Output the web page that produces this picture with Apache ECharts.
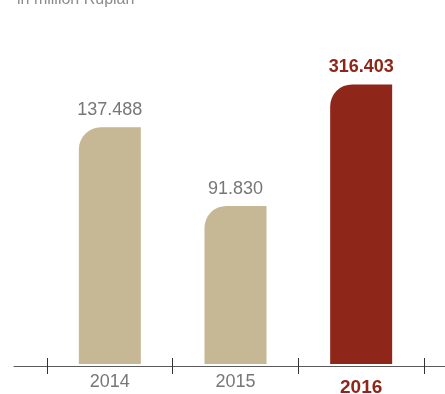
<!DOCTYPE html>
<html>
<head>
<meta charset="utf-8">
<script src="https://cdn.jsdelivr.net/npm/echarts@6/dist/echarts.min.js"></script>
<style>
  html, body { margin: 0; padding: 0; background: #ffffff; }
  #chart { width: 445px; height: 394px; }
</style>
</head>
<body>
<div id="chart"></div>
<script>
// Net income, in million Rupiah
const categories = ['2014', '2015', '2016'];
const values = [137.488, 91.830, 316.403];
const unitLabel = 'in million Rupiah';

const BEIGE = '#c6b894';
const RED = '#8e2619';
const GREY = '#777777';
const FONT = '"Liberation Sans", Arial, Helvetica, sans-serif';
const last = categories.length - 1;

const fmt = v => v.toFixed(3);

const barData = values.map((v, i) => {
  const hot = i === last;
  return {
    value: v,
    itemStyle: { color: hot ? RED : BEIGE },
    label: {
      color: hot ? RED : GREY,
      fontWeight: hot ? 'bold' : 'normal'
    }
  };
});

const chart = echarts.init(document.getElementById('chart'), null, { renderer: 'canvas' });

chart.setOption({
  animation: false,
  backgroundColor: '#ffffff',
  title: {
    text: unitLabel,
    left: 12,
    top: -13,
    textStyle: { fontFamily: FONT, fontSize: 16, fontWeight: 'normal', color: '#8c8c8c' }
  },
  grid: [
    // bars
    { left: 47, right: 21, top: 61, bottom: 30, outerBoundsMode: 'none', containLabel: false },
    // tick marks crossing the baseline
    { left: 47, right: 21, top: 61, bottom: 28, outerBoundsMode: 'none', containLabel: false },
    // long baseline
    { left: 14, right: 0, top: 61, bottom: 28, outerBoundsMode: 'none', containLabel: false }
  ],
  xAxis: [
    {
      gridIndex: 0,
      type: 'category',
      data: categories,
      axisLine: { show: false },
      axisTick: { show: false },
      axisLabel: {
        margin: 9,
        formatter: (val, idx) => idx === last ? `{hot|${val}}` : `{base|${val}}`,
        rich: {
          base: { fontFamily: FONT, fontSize: 18, color: GREY, lineHeight: 19 },
          hot: { fontFamily: FONT, fontSize: 19, fontWeight: 'bold', color: RED, lineHeight: 29 }
        }
      }
    },
    {
      gridIndex: 1,
      type: 'category',
      data: categories,
      axisLine: { show: false },
      axisLabel: { show: false },
      axisTick: { show: true, inside: false, length: 8, lineStyle: { color: '#333333', width: 1 } }
    },
    {
      gridIndex: 1,
      type: 'category',
      data: categories,
      position: 'bottom',
      axisLine: { show: false },
      axisLabel: { show: false },
      axisTick: { show: true, inside: true, length: 8, lineStyle: { color: '#333333', width: 1 } }
    },
    {
      gridIndex: 2,
      type: 'value',
      axisLine: { show: true, onZero: false, lineStyle: { color: '#5a5a5a', width: 1 } },
      axisTick: { show: false },
      axisLabel: { show: false },
      splitLine: { show: false }
    }
  ],
  yAxis: [
    {
      gridIndex: 0,
      type: 'value',
      min: 0,
      max: 330,
      breaks: [{ start: 160, end: 314, gap: 0 }],
      breakArea: { show: false },
      breakLabelLayout: { moveOverlap: false },
      axisLine: { show: false },
      axisTick: { show: false },
      axisLabel: { show: false },
      splitLine: { show: false }
    },
    { gridIndex: 1, type: 'value', show: false },
    { gridIndex: 2, type: 'value', show: false }
  ],
  series: [
    {
      type: 'bar',
      xAxisIndex: 0,
      yAxisIndex: 0,
      barWidth: 62,
      data: barData,
      itemStyle: { borderRadius: [22, 0, 0, 0] },
      label: {
        show: true,
        position: 'top',
        distance: 8,
        fontFamily: FONT,
        fontSize: 18,
        formatter: p => fmt(p.value)
      }
    }
  ]
});
</script>
</body>
</html>
